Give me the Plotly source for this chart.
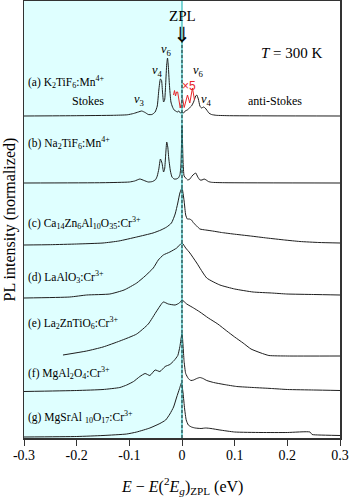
import numpy as np
import plotly.graph_objects as go

# ---------------- data (energy offset in eV, PL intensity in arbitrary normalized units) -------------
a_E = [-0.300, -0.200, -0.130, -0.104, -0.092, -0.083, -0.0765, -0.070, -0.064, -0.057, -0.051, -0.047,
       -0.044, -0.041, -0.039, -0.037, -0.035, -0.033, -0.031, -0.029, -0.0275, -0.026, -0.024, -0.021,
       -0.018, -0.015, -0.012, -0.009, -0.006, -0.003, 0.000, 0.003, 0.006, 0.010, 0.014, 0.018, 0.022,
       0.026, 0.028, 0.031, 0.034, 0.037, 0.041, 0.044, 0.047, 0.051, 0.056, 0.065, 0.090, 0.300]
a_I = [0, 0.3, 0.7, 1.2, 2.5, 4, 5, 3.5, 1.5, 1.5, 4, 10, 26, 37, 36, 24, 14, 16, 32, 52, 58, 50, 32, 14,
       9, 6, 5, 4, 5, 3, 4, 3, 5, 6, 8, 10, 14, 20, 21, 17, 10, 8, 9, 8, 6, 3, 1.5, 0.7, 0.3, 0]

# x5 magnified part of spectrum (a) around the ZPL
a5_E = [-0.0161, -0.0142, -0.0123, -0.0104, -0.0082, -0.0034, 0.0009, 0.0042, 0.0104, 0.0148, 0.0199, 0.0237]
a5_I = [21, 25.5, 20, 24, 24, 8, 18, 8.5, 21, 13, 28, 16]

b_E = [-0.300, -0.150, -0.100, -0.090, -0.080, -0.072, -0.064, -0.056, -0.050, -0.047, -0.044, -0.041,
       -0.038, -0.035, -0.033, -0.031, -0.029, -0.027, -0.025, -0.022, -0.019, -0.015, -0.011, -0.007,
       -0.004, -0.002, 0.000, 0.002, 0.004, 0.007, 0.011, 0.015, 0.019, 0.023, 0.026, 0.030, 0.034,
       0.038, 0.042, 0.046, 0.050, 0.056, 0.080, 0.300]
b_I = [0, 0.3, 1, 2, 4, 2.5, 1, 1.5, 3.5, 7, 14, 24, 20, 11, 14, 28, 41, 36, 24, 12, 6, 4, 4, 5,
       8, 18, 57, 22, 7, 5, 3, 4, 7, 9, 10, 6, 3, 3, 4, 3, 1.5, 0.7, 0.3, 0]

c_E = [-0.300, -0.250, -0.200, -0.150, -0.120, -0.086, -0.055, -0.040, -0.029, -0.020, -0.013, -0.008,
       -0.004, 0.000, 0.004, 0.007, 0.010, 0.014, 0.018, 0.022, 0.028, 0.034, 0.045, 0.058, 0.075, 0.097,
       0.130, 0.161, 0.195, 0.224, 0.260, 0.300]
c_I = [0, 0.3, 1, 2, 4, 8, 12, 15, 18, 22, 31, 42, 52, 57, 44, 30, 26, 26, 25, 22, 19, 16, 15, 14,
       12.5, 11, 9, 7, 5, 3.5, 2.5, 2]

d_E = [-0.300, -0.213, -0.181, -0.137, -0.110, -0.086, -0.070, -0.0545, -0.045, -0.0355, -0.023, -0.010,
       0.000, 0.007, 0.015, 0.028, 0.047, 0.072, 0.100, 0.135, 0.170, 0.199, 0.250, 0.300]
d_I = [0, 1, 3, 4, 8, 15, 22, 30, 38, 43, 46, 50, 55, 50, 45, 35, 20, 13, 9, 6, 5, 4, 3.5, 3]

e_E = [-0.226, -0.181, -0.150, -0.118, -0.086, -0.064, -0.048, -0.0355, -0.026, -0.013, -0.005, 0.000,
       0.009, 0.022, 0.034, 0.050, 0.068, 0.085, 0.100, 0.116, 0.131, 0.150, 0.165, 0.200, 0.300]
e_I = [1, 5, 9, 15, 22, 32, 45, 54, 52, 51, 53, 56, 52, 48, 44, 38, 32, 25, 19, 13, 7, 3, 0.5, 0, 0]

f_E = [-0.300, -0.200, -0.150, -0.118, -0.105, -0.092, -0.080, -0.070, -0.061, -0.051, -0.042, -0.032,
       -0.023, -0.015, -0.008, -0.004, 0.000, 0.004, 0.007, 0.012, 0.017, 0.022, 0.028, 0.034, 0.040,
       0.047, 0.060, 0.080, 0.104, 0.135, 0.170, 0.200, 0.250, 0.300]
f_I = [0, 1, 2, 4, 6.5, 10, 15, 18, 16, 21.5, 20, 25, 27, 31, 36, 45, 58, 30, 18, 13, 11, 11.5, 13, 14,
       13, 11, 9, 7, 5, 4, 3, 2, 1.5, 1]

g_E = [-0.300, -0.200, -0.150, -0.105, -0.086, -0.061, -0.042, -0.031, -0.023, -0.016, -0.010, -0.005,
       -0.001, 0.002, 0.005, 0.008, 0.012, 0.018, 0.025, 0.036, 0.045, 0.055, 0.072, 0.100, 0.150, 0.200,
       0.243, 0.247, 0.260, 0.300]
g_I = [0, 0.5, 1.5, 3, 5, 9, 13.5, 17, 23, 30, 40, 48, 54, 44, 28, 17, 12, 10, 9, 8.5, 9, 8.5, 7, 5,
       4.5, 4.5, 5, 2.5, 2, 1.5]

sample_labels = [
    "(a) K<sub>2</sub>TiF<sub>6</sub>:Mn<sup>4+</sup>",
    "(b) Na<sub>2</sub>TiF<sub>6</sub>:Mn<sup>4+</sup>",
    "(c) Ca<sub>14</sub>Zn<sub>6</sub>Al<sub>10</sub>O<sub>35</sub>:Cr<sup>3+</sup>",
    "(d) LaAlO<sub>3</sub>:Cr<sup>3+</sup>",
    "(e) La<sub>2</sub>ZnTiO<sub>6</sub>:Cr<sup>3+</sup>",
    "(f) MgAl<sub>2</sub>O<sub>4</sub>:Cr<sup>3+</sup>",
    "(g) MgSrAl <sub>10</sub>O<sub>17</sub>:Cr<sup>3+</sup>",
]
spectra = [(a_E, a_I), (b_E, b_I), (c_E, c_I), (d_E, d_I), (e_E, e_I), (f_E, f_I), (g_E, g_I)]
offsets = [322, 255, 193, 140, 82, 46.5, 1]          # vertical stacking offsets
label_y = [356, 295, 215, 161, 115, 65, 21]          # label heights

x_ticks = [-0.3, -0.2, -0.1, 0, 0.1, 0.2, 0.3]
x_ticktext = ["-0.3", "-0.2", "-0.1", "0", "0.1", "0.2", "0.3"]

# ---------------- figure -------------
SERIF = "Liberation Serif"
fig = go.Figure()

for (E, I), off in zip(spectra, offsets):
    fig.add_trace(go.Scatter(x=E, y=np.array(I) + off, mode="lines",
                             line=dict(color="#1e1e1e", width=1, shape="spline", smoothing=0.5),
                             hoverinfo="skip", showlegend=False))

fig.add_trace(go.Scatter(x=a5_E, y=np.array(a5_I) + offsets[0], mode="lines",
                         line=dict(color="#e8262a", width=1), hoverinfo="skip", showlegend=False))

shapes = [
    dict(type="rect", xref="x", yref="paper", x0=-0.3, x1=0, y0=0, y1=1,
         fillcolor="#dfffff", line=dict(width=0), layer="below"),
    dict(type="line", xref="x", yref="paper", x0=0, x1=0, y0=0, y1=1,
         line=dict(color="#2fb8b8", width=1.2), layer="above"),
    dict(type="line", xref="x", yref="y", x0=0, x1=0, y0=0, y1=396,
         line=dict(color="#1a2a2a", width=1, dash="3px,2px"), layer="above"),
]

ann = []
for lab, ly in zip(sample_labels, label_y):
    ann.append(dict(x=-0.296, y=ly, xref="x", yref="y", text=lab, showarrow=False,
                    xanchor="left", yanchor="middle", font=dict(family=SERIF, size=11.5, color="black")))

def txt(x, y, t, size=12, color="black", family=SERIF):
    ann.append(dict(x=x, y=y, xref="x", yref="y", text=t, showarrow=False,
                    xanchor="center", yanchor="middle", font=dict(family=family, size=size, color=color)))

txt(-0.0285, 388, "<i>ν</i><sub>6</sub>", 12.5)
txt(-0.0456, 367, "<i>ν</i><sub>4</sub>", 12.5)
txt(-0.0816, 338, "<i>ν</i><sub>3</sub>", 12.5)
txt(0.032, 367, "<i>ν</i><sub>6</sub>", 12.5)
txt(0.0456, 338, "<i>ν</i><sub>4</sub>", 12.5)
txt(0.0125, 352, "×5", 12, color="#e8262a", family="Liberation Sans")
txt(-0.178, 337, "Stokes", 12)
txt(0.177, 337, "anti-Stokes", 12)
txt(0.209, 385, "<i>T</i> = 300 K", 15)
txt(0.0, 422, "ZPL", 15)
txt(0.0, 403, "⇓", 21, family="DejaVu Sans")

# axis titles
ann.append(dict(x=0, y=0.5, xref="paper", yref="paper", text="PL intensity (normalized)", textangle=-90,
                showarrow=False, xanchor="center", yanchor="middle", xshift=-15,
                font=dict(family=SERIF, size=16, color="black")))
ann.append(dict(x=0.5, y=0, xref="paper", yref="paper",
                text="<i>E</i> − <i>E</i>(<sup>2</sup><i>E</i><sub><i>g</i></sub>)<sub>ZPL</sub> (eV)",
                showarrow=False, xanchor="center", yanchor="middle", yshift=-48,
                font=dict(family=SERIF, size=16, color="black")))

fig.update_layout(
    width=350, height=498,
    margin=dict(l=24, r=10, t=1, b=60, autoexpand=False),
    paper_bgcolor="white", plot_bgcolor="white",
    shapes=shapes, annotations=ann, showlegend=False,
    xaxis=dict(range=[-0.3, 0.3], tickvals=x_ticks, ticktext=x_ticktext, ticks="outside", ticklen=6,
               tickwidth=1, tickcolor="#333", showline=True, mirror=True, linecolor="#333", linewidth=1.5,
               showgrid=False, zeroline=False, automargin=False, ticklabelstandoff=-2,
               tickfont=dict(family=SERIF, size=14, color="black")),
    yaxis=dict(range=[0, 437], showticklabels=False, ticks="", showline=True, mirror=True, automargin=False,
               linecolor="#333", linewidth=1.5, showgrid=False, zeroline=False),
)

fig.write_html("out.html", config={"displayModeBar": False, "staticPlot": True},
               post_script="document.body.style.margin='0';document.body.style.padding='0';"
                           "document.body.style.overflow='hidden';")
